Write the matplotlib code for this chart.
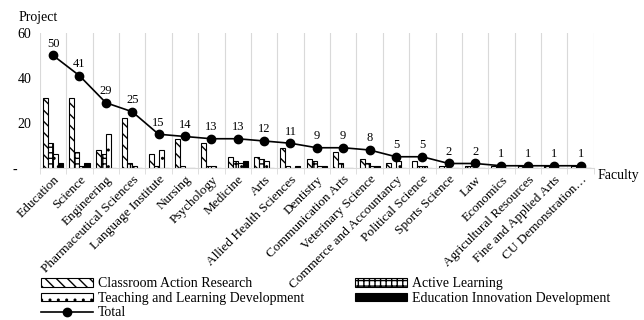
import numpy as np
import matplotlib
matplotlib.use("Agg")
import matplotlib.pyplot as plt

plt.rcParams['font.family'] = ['Liberation Serif', 'DejaVu Serif']
plt.rcParams['hatch.linewidth'] = 1.0

faculties = ["Education", "Science", "Engineering", "Pharmaceutical Sciences",
             "Language Institute", "Nursing", "Psychology", "Medicine", "Arts",
             "Allied Health Sciences", "Dentistry", "Communication Arts",
             "Veterinary Science", "Commerce and Accountancy", "Political Science",
             "Sports Science", "Law", "Economics", "Agricultural Resources",
             "Fine and Applied Arts", "CU Demonstration…"]

car = [31, 31, 8, 22, 6, 13, 11, 5, 5, 9, 4, 7, 4, 2, 3, 1, 1, 1, 1, 1, 1]
active = [11, 7, 6, 2, 1, 1, 1, 3, 4, 1, 3, 2, 2, 0, 1, 1, 1, 0, 0, 0, 0]
tld = [6, 1, 15, 1, 8, 0, 1, 2, 3, 0, 1, 0, 1, 3, 1, 0, 0, 0, 0, 0, 0]
eid = [2, 2, 0, 0, 0, 0, 0, 3, 0, 1, 1, 0, 1, 0, 0, 0, 0, 0, 0, 0, 0]
total = [50, 41, 29, 25, 15, 14, 13, 13, 12, 11, 9, 9, 8, 5, 5, 2, 2, 1, 1, 1, 1]

yticks = [0, 20, 40, 60]
ytick_labels = ["-    ", "20", "40", "60"]

fig = plt.figure(figsize=(6.44, 3.2), dpi=100)
ax = fig.add_axes([0.062, 0.475, 0.86, 0.422])

x = np.arange(len(faculties))
w = 0.19
b1 = ax.bar(x - 1.5 * w, car, w, facecolor="white", edgecolor="black",
            hatch="\\\\\\", linewidth=0.8, label="Classroom Action Research")
b2 = ax.bar(x - 0.5 * w, active, w, facecolor="white", edgecolor="black",
            hatch="+++", linewidth=0.8, label="Active Learning")
b3 = ax.bar(x + 0.5 * w, tld, w, facecolor="white", edgecolor="black",
            hatch="..", linewidth=0.8, label="Teaching and Learning Development")
b4 = ax.bar(x + 1.5 * w, eid, w, facecolor="black", edgecolor="black",
            linewidth=0.8, label="Education Innovation Development")
ln, = ax.plot(x, total, "-o", color="black", markersize=6, linewidth=1.2,
              label="Total")

for xi, t in zip(x, total):
    ax.annotate(str(t), (xi, t), xytext=(0, 4), textcoords="offset points",
                ha="center", va="bottom", fontsize=9)

ax.set_xlim(-0.5, len(faculties) - 0.5)
ax.set_ylim(0, 60)
ax.set_yticks(yticks)
ax.set_yticklabels(ytick_labels, fontsize=10)
ax.set_xticks(x)
ax.set_xticklabels(faculties, rotation=45, ha="right", rotation_mode="anchor",
                   fontsize=9.5)
ax.tick_params(axis="x", which="major", length=0, pad=4)
ax.tick_params(axis="y", length=0, pad=6)
ax.set_xticks(np.arange(len(faculties) + 1) - 0.5, minor=True)
ax.tick_params(axis="x", which="minor", length=4, color="#d9d9d9")
ax.grid(axis="x", which="minor", color="#d9d9d9", linewidth=0.8)
ax.set_axisbelow(True)
for s in ["left", "right", "top"]:
    ax.spines[s].set_visible(False)
ax.spines["bottom"].set_color("#d9d9d9")

fig.text(0.06, 0.935, "Project", fontsize=10, ha="center")
fig.text(0.928, 0.44, "Faculty", fontsize=10, ha="left")

fig.legend(handles=[b1, b3, ln, b2, b4], ncol=2, loc="upper left",
           bbox_to_anchor=(0.053, 0.155), frameon=False, fontsize=10,
           handlelength=3.75, handleheight=0.55, labelspacing=0.1,
           columnspacing=3.65, handletextpad=0.35, borderpad=0)

fig.savefig("out.png", dpi=100)
